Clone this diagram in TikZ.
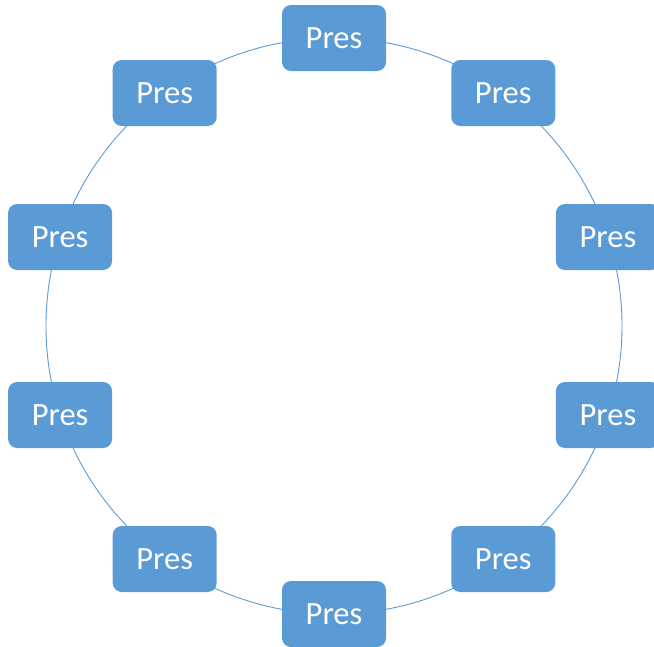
\documentclass[tikz,border=0pt]{standalone}
\usepackage{fontspec}
\setmainfont{Carlito}
\usetikzlibrary{calc}
\definecolor{nodeblue}{HTML}{5B9BD5}
\begin{document}
\begin{tikzpicture}[x=1pt,y=-1pt,
  presbox/.style={fill=nodeblue, draw=none, rounded corners=9pt, minimum width=104pt, minimum height=66pt, inner sep=0pt, text=white, font=\fontsize{32.5}{36}\selectfont},
  ring/.style={draw=nodeblue, line width=0.9pt}]
\useasboundingbox (0,0) rectangle (654,646);
\coordinate (c) at (334,326);
\draw[ring] (c) circle[radius=288];
\foreach \i in {0,...,9}{
  \pgfmathsetmacro{\ang}{90-36*\i}
  \node[presbox] (p\i) at ($(c)+(\ang:288 and -288)$) {Pres};
}
\end{tikzpicture}
\end{document}
